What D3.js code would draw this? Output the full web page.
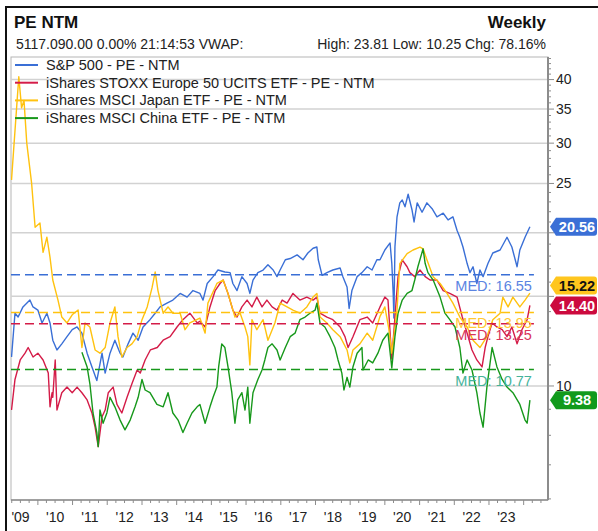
<!DOCTYPE html>
<html>
<head>
<meta charset="utf-8">
<script src="https://cdn.jsdelivr.net/npm/d3@7"></script>
<style>
  body { margin: 0; background: #fff; }
  text { font-family: "Liberation Sans", Arial, sans-serif; }
</style>
</head>
<body>
<script>
// series (time as decimal year, value = forward PE)
const spxT = [2009.24, 2009.34, 2009.43, 2009.57, 2009.77, 2009.86, 2010.00, 2010.12, 2010.26, 2010.35, 2010.43, 2010.55, 2010.69, 2010.84, 2010.99, 2011.13, 2011.27, 2011.42, 2011.56, 2011.70, 2011.85, 2011.94, 2012.08, 2012.22, 2012.37, 2012.45, 2012.60, 2012.74, 2012.89, 2013.03, 2013.23, 2013.38, 2013.52, 2013.72, 2013.89, 2014.10, 2014.30, 2014.47, 2014.67, 2014.76, 2014.88, 2015.05, 2015.19, 2015.39, 2015.54, 2015.62, 2015.74, 2015.88, 2016.03, 2016.11, 2016.20, 2016.34, 2016.49, 2016.63, 2016.78, 2016.89, 2016.98, 2017.13, 2017.27, 2017.47, 2017.64, 2017.78, 2017.93, 2018.04, 2018.08, 2018.19, 2018.33, 2018.50, 2018.71, 2018.79, 2018.91, 2018.97, 2019.05, 2019.20, 2019.34, 2019.49, 2019.63, 2019.77, 2019.86, 2020.00, 2020.15, 2020.20, 2020.24, 2020.26, 2020.29, 2020.35, 2020.43, 2020.50, 2020.58, 2020.67, 2020.78, 2020.84, 2020.93, 2021.07, 2021.21, 2021.36, 2021.50, 2021.68, 2021.82, 2021.96, 2022.08, 2022.16, 2022.25, 2022.37, 2022.45, 2022.54, 2022.65, 2022.74, 2022.83, 2022.97, 2023.11, 2023.32, 2023.52, 2023.66, 2023.81, 2023.89, 2024.04, 2024.18]
const spxV = [11.4, 13.9, 13.66, 14.3, 14.75, 14.3, 14.1, 13.3, 13.9, 13.3, 12.3, 11.77, 12.1, 12.5, 12.9, 13.06, 12.7, 11.6, 10.9, 10.25, 11.6, 10.6, 11.6, 12.3, 11.6, 11.4, 12.1, 12.7, 12.3, 13.06, 13.5, 13.9, 14.3, 14.55, 14.75, 15.2, 14.95, 15.4, 15.2, 14.75, 15.9, 16.4, 16.9, 16.75, 16.7, 15.9, 15.4, 16.4, 15.9, 15.2, 16.15, 16.7, 16.9, 17.3, 16.9, 16.4, 16.9, 17.7, 17.8, 18.1, 17.7, 18.25, 18.65, 18.75, 17.7, 16.5, 16.7, 16.9, 17.05, 16.4, 15.65, 14.2, 15.4, 16.4, 16.7, 17.15, 16.9, 17.7, 17.7, 18.5, 19.1, 17.4, 15.2, 13.6, 18.75, 21.5, 22.9, 23.2, 22.5, 23.81, 22.2, 21.0, 22.9, 21.95, 22.9, 22.3, 21.5, 21.85, 21.2, 21.5, 20.2, 19.6, 18.75, 17.4, 16.7, 17.15, 15.9, 16.9, 16.4, 17.4, 18.25, 18.5, 19.6, 18.75, 17.15, 18.5, 19.6, 20.56]

const euT = [2009.24, 2009.34, 2009.49, 2009.63, 2009.72, 2009.86, 2010.00, 2010.15, 2010.30, 2010.35, 2010.41, 2010.43, 2010.50, 2010.55, 2010.69, 2010.84, 2010.99, 2011.13, 2011.27, 2011.42, 2011.56, 2011.65, 2011.74, 2011.85, 2011.94, 2012.03, 2012.17, 2012.28, 2012.42, 2012.57, 2012.71, 2012.86, 2012.95, 2013.09, 2013.24, 2013.44, 2013.61, 2013.81, 2014.01, 2014.18, 2014.38, 2014.59, 2014.67, 2014.82, 2014.96, 2015.11, 2015.25, 2015.34, 2015.48, 2015.62, 2015.74, 2015.88, 2016.03, 2016.17, 2016.31, 2016.46, 2016.60, 2016.75, 2016.89, 2017.04, 2017.18, 2017.35, 2017.55, 2017.75, 2017.93, 2018.04, 2018.13, 2018.33, 2018.50, 2018.71, 2018.85, 2018.94, 2019.08, 2019.28, 2019.49, 2019.65, 2019.86, 2020.00, 2020.09, 2020.20, 2020.32, 2020.38, 2020.50, 2020.64, 2020.72, 2020.86, 2021.01, 2021.16, 2021.30, 2021.50, 2021.68, 2021.87, 2022.08, 2022.23, 2022.37, 2022.51, 2022.65, 2022.80, 2022.89, 2022.97, 2023.09, 2023.23, 2023.38, 2023.52, 2023.66, 2023.81, 2023.95, 2024.10, 2024.18]
const euV = [8.97, 10.3, 11.25, 11.6, 11.9, 11.4, 11.6, 11.25, 10.6, 9.1, 9.7, 9.5, 11.25, 8.97, 9.7, 9.95, 9.7, 9.95, 9.7, 9.39, 8.85, 8.3, 7.6, 8.7, 8.97, 9.7, 9.95, 9.2, 8.85, 9.5, 10.1, 10.75, 10.6, 11.25, 11.77, 11.9, 12.3, 12.5, 13.06, 13.5, 13.9, 13.3, 13.4, 13.06, 14.3, 15.4, 15.9, 16.15, 15.2, 14.1, 13.66, 14.3, 14.75, 14.3, 14.95, 14.3, 14.75, 14.3, 14.1, 14.75, 14.55, 15.2, 14.75, 14.95, 14.75, 14.95, 13.9, 13.66, 13.5, 13.06, 12.5, 11.9, 12.5, 13.5, 13.66, 13.3, 14.3, 14.95, 14.75, 11.3, 14.55, 16.4, 17.7, 17.15, 16.7, 16.4, 16.9, 16.4, 16.15, 16.15, 15.4, 15.2, 14.95, 13.66, 12.7, 11.77, 11.25, 10.9, 11.9, 12.5, 13.3, 13.06, 12.9, 12.5, 13.06, 12.1, 12.9, 13.5, 14.40]

const jpT = [2009.24, 2009.45, 2009.53, 2009.60, 2009.68, 2009.82, 2009.92, 2010.06, 2010.15, 2010.26, 2010.35, 2010.43, 2010.58, 2010.69, 2010.84, 2010.99, 2011.16, 2011.27, 2011.36, 2011.50, 2011.65, 2011.79, 2011.94, 2012.08, 2012.22, 2012.31, 2012.42, 2012.57, 2012.71, 2012.86, 2013.00, 2013.15, 2013.29, 2013.38, 2013.46, 2013.61, 2013.75, 2013.89, 2014.10, 2014.24, 2014.38, 2014.67, 2014.82, 2014.90, 2015.16, 2015.34, 2015.48, 2015.68, 2015.83, 2015.97, 2016.05, 2016.11, 2016.17, 2016.31, 2016.49, 2016.63, 2016.83, 2016.98, 2017.18, 2017.35, 2017.55, 2017.75, 2017.93, 2018.04, 2018.13, 2018.33, 2018.50, 2018.71, 2018.91, 2018.99, 2019.08, 2019.28, 2019.49, 2019.65, 2019.86, 2020.00, 2020.11, 2020.20, 2020.35, 2020.43, 2020.64, 2020.81, 2021.01, 2021.10, 2021.21, 2021.39, 2021.59, 2021.79, 2021.96, 2022.16, 2022.37, 2022.54, 2022.74, 2022.94, 2023.11, 2023.32, 2023.40, 2023.55, 2023.69, 2023.89, 2024.04, 2024.18]
const jpV = [25.4, 40.5, 35.2, 36.4, 30, 25, 20.5, 20.9, 18.3, 19.6, 17.9, 16.15, 14.75, 13.66, 13.3, 13.8, 14.1, 11.9, 13.3, 13.06, 11.77, 11.6, 11.9, 13.3, 14.3, 12.5, 11.4, 11.9, 12.1, 12.5, 13.5, 14.3, 15.6, 16.75, 15.4, 13.9, 14.3, 13.9, 13.9, 12.9, 13.3, 13.6, 12.7, 14.55, 15.9, 16.15, 15.2, 13.66, 13.9, 13.06, 12.5, 11.0, 13.5, 12.9, 13.5, 12.3, 13.3, 14.55, 14.3, 14.1, 13.9, 14.3, 14.95, 15.2, 13.66, 13.3, 12.9, 12.5, 11.77, 11.1, 11.77, 12.1, 12.7, 12.3, 13.7, 14.3, 13.0, 11.6, 14.1, 17.4, 18.2, 18.5, 18.75, 18.6, 17.7, 16.4, 15.9, 15.2, 14.55, 13.66, 13.06, 12.3, 11.9, 12.5, 13.5, 13.9, 14.95, 14.3, 14.95, 14.3, 14.75, 15.22]

const cnT = [2011.27, 2011.42, 2011.50, 2011.59, 2011.70, 2011.74, 2011.79, 2011.88, 2011.99, 2012.08, 2012.22, 2012.37, 2012.51, 2012.66, 2012.80, 2012.89, 2013.00, 2013.09, 2013.23, 2013.43, 2013.61, 2013.75, 2013.89, 2014.04, 2014.18, 2014.30, 2014.44, 2014.59, 2014.67, 2014.82, 2014.96, 2015.05, 2015.16, 2015.21, 2015.30, 2015.39, 2015.48, 2015.59, 2015.68, 2015.76, 2015.88, 2015.97, 2016.05, 2016.11, 2016.20, 2016.34, 2016.46, 2016.54, 2016.63, 2016.75, 2016.89, 2016.98, 2017.13, 2017.27, 2017.41, 2017.55, 2017.70, 2017.84, 2017.99, 2018.04, 2018.13, 2018.27, 2018.42, 2018.56, 2018.65, 2018.76, 2018.82, 2018.91, 2018.99, 2019.08, 2019.20, 2019.34, 2019.37, 2019.52, 2019.65, 2019.80, 2019.94, 2020.09, 2020.20, 2020.29, 2020.38, 2020.50, 2020.64, 2020.78, 2020.86, 2020.95, 2021.10, 2021.16, 2021.24, 2021.39, 2021.59, 2021.73, 2021.87, 2022.02, 2022.16, 2022.25, 2022.37, 2022.51, 2022.65, 2022.74, 2022.83, 2022.94, 2023.09, 2023.23, 2023.38, 2023.52, 2023.69, 2023.89, 2024.04, 2024.10, 2024.18]
const cnV = [11.65, 10.9, 10.1, 8.85, 8.1, 7.6, 8.97, 8.45, 8.85, 9.5, 9.1, 8.57, 8.2, 8.57, 9.1, 9.5, 10.3, 9.82, 9.7, 9.2, 9.1, 9.7, 8.85, 8.57, 8.1, 8.45, 8.85, 9.1, 9.2, 8.45, 9.1, 9.5, 9.95, 10.9, 12.1, 11.9, 10.9, 9.7, 8.45, 9.39, 9.7, 8.97, 9.95, 8.45, 9.7, 10.3, 10.75, 11.25, 11.9, 12.1, 11.77, 11.25, 11.9, 12.5, 12.7, 13.5, 13.66, 13.9, 14.1, 14.55, 13.3, 13.06, 12.5, 11.9, 11.25, 10.6, 9.82, 10.4, 9.95, 10.9, 11.6, 11.9, 10.75, 11.25, 11.1, 11.6, 12.3, 12.7, 10.85, 12.5, 13.9, 14.75, 15.2, 15.4, 16.15, 17.15, 18.6, 17.4, 16.7, 16.15, 14.95, 13.9, 13.5, 13.06, 11.9, 10.6, 11.25, 10.75, 9.7, 8.85, 8.3, 9.95, 11.9, 10.9, 10.3, 9.95, 9.7, 9.2, 8.57, 8.45, 9.38]

const seriesNames = [
  'S&P 500 - PE - NTM',
  'iShares STOXX Europe 50 UCITS ETF - PE - NTM',
  'iShares MSCI Japan ETF - PE - NTM',
  'iShares MSCI China ETF - PE - NTM',
]
const seriesColor = ['#3a6fd6', '#d41c48', '#ffc20f', '#17981b']
const tagColor = ['#3a6fd6', '#cc0a3e', '#ffc61e', '#129a1c']
const tagText = ['#fff', '#fff', '#111', '#fff']
const medColor = ['#5b84e2', '#d8345c', '#ffc933', '#45b39a']
const medians = [16.55, 13.25, 13.95, 10.77]
const gridValues = [10, 15, 20, 25, 30, 35, 40]
const yearLabels = ["'09", "'10", "'11", "'12", "'13", "'14", "'15", "'16", "'17", "'18", "'19", "'20", "'21", "'22", "'23"]
const firstYear = 2009

const width = 598
const height = 531
const plot = { left: 11, right: 548, top: 57, bottom: 500 }

const toDate = (t) => {
  const yr = Math.floor(t)
  const a = new Date(yr, 0, 1)
  const b = new Date(yr + 1, 0, 1)
  return new Date(+a + (t - yr) * (b - a))
}

const series = [
  [spxT, spxV],
  [euT, euV],
  [jpT, jpV],
  [cnT, cnV],
].map(([t, v], i) => ({
  name: seriesNames[i],
  color: seriesColor[i],
  points: t.map((d, j) => ({ date: toDate(d), value: v[j] })),
}))

const x = d3.scaleTime()
  .domain([toDate(2009.225), toDate(2024.70)])
  .range([plot.left, plot.right])
const y = d3.scaleLog()
  .domain([5.97, 44.3])
  .range([plot.bottom, plot.top])

// last value tags, pushed apart from the bottom up
const tags = series.map((s, i) => {
  const last = s.points[s.points.length - 1]
  return { value: last.value, i, ty: y(last.value) }
}).sort((a, b) => b.ty - a.ty)
tags.forEach((t, k) => {
  if (k > 0) t.ty = Math.min(t.ty, tags[k - 1].ty - 20)
})

const svg = d3.select('body').append('svg')
  .attr('width', width)
  .attr('height', height)

svg.append('defs').append('clipPath').attr('id', 'clip')
  .append('rect')
  .attr('x', plot.left).attr('y', plot.top)
  .attr('width', plot.right - plot.left).attr('height', plot.bottom - plot.top)

// outer frame (left + top only)
svg.append('path')
  .attr('d', `M6,${height} V7 H${width}`)
  .attr('fill', 'none')
  .attr('stroke', '#111')
  .attr('stroke-width', 2)

// header
svg.append('text').attr('x', 14).attr('y', 28)
  .style('font-size', '17px').style('font-weight', 'bold').attr('fill', '#111')
  .text('PE NTM')
svg.append('text').attr('x', 546).attr('y', 28).attr('text-anchor', 'end')
  .style('font-size', '17px').style('font-weight', 'bold').attr('fill', '#111')
  .text('Weekly')
svg.append('text').attr('x', 16).attr('y', 49)
  .style('font-size', '14px').attr('fill', '#222')
  .text('5117.090.00 0.00% 21:14:53 VWAP:')
svg.append('text').attr('x', 546).attr('y', 49).attr('text-anchor', 'end')
  .style('font-size', '14px').attr('fill', '#222')
  .text('High: 23.81 Low: 10.25 Chg: 78.16%')

// plot box
svg.append('rect')
  .attr('x', plot.left).attr('y', plot.top)
  .attr('width', plot.right - plot.left).attr('height', plot.bottom - plot.top)
  .attr('fill', 'none').attr('stroke', '#b5b5b5')

// grid
svg.append('g').selectAll('line')
  .data(gridValues)
  .join('line')
  .attr('x1', plot.left).attr('x2', plot.right)
  .attr('y1', (d) => y(d)).attr('y2', (d) => y(d))
  .attr('stroke', '#d2d2d2').attr('stroke-width', 1.5)

// right axis
const yAxis = svg.append('g')
yAxis.append('line')
  .attr('x1', plot.right).attr('x2', plot.right)
  .attr('y1', plot.top).attr('y2', plot.bottom)
  .attr('stroke', '#8c8c8c').attr('stroke-width', 2)
yAxis.selectAll('.minor')
  .data(d3.range(6, 45))
  .join('line')
  .attr('x1', plot.right).attr('x2', (d) => plot.right + (d % 5 === 0 ? 6 : 3))
  .attr('y1', (d) => y(d)).attr('y2', (d) => y(d))
  .attr('stroke', '#8c8c8c')
// labels hidden behind a value tag are left out, as in the original
yAxis.selectAll('.lbl')
  .data(gridValues.filter((v) => tags.every((t) => Math.abs(t.ty - y(v)) > 12)))
  .join('text')
  .attr('x', plot.right + 8).attr('y', (d) => y(d)).attr('dy', '0.35em')
  .style('font-size', '14px').attr('fill', '#222')
  .text((d) => d)

// bottom axis
const xAxis = svg.append('g')
xAxis.append('line')
  .attr('x1', plot.left).attr('x2', plot.right)
  .attr('y1', plot.bottom).attr('y2', plot.bottom)
  .attr('stroke', '#8c8c8c').attr('stroke-width', 1.5)
xAxis.selectAll('.tick')
  .data(d3.timeMonth.every(3).range(x.domain()[0], x.domain()[1]))
  .join('line')
  .attr('x1', (d) => x(d)).attr('x2', (d) => x(d))
  .attr('y1', plot.bottom).attr('y2', (d) => plot.bottom + (d.getMonth() === 0 ? 5 : 3))
  .attr('stroke', '#8c8c8c')
xAxis.selectAll('.yl')
  .data(yearLabels)
  .join('text')
  .attr('x', (d, i) => x(toDate(firstYear + i + 0.5)))
  .attr('y', 522)
  .attr('text-anchor', 'middle')
  .style('font-size', '14px').attr('fill', '#222')
  .text((d) => d)

// series lines
const line = d3.line()
  .x((d) => x(d.date))
  .y((d) => y(d.value))

svg.append('g').attr('clip-path', 'url(#clip)')
  .selectAll('path')
  .data(series)
  .join('path')
  .attr('d', (d) => line(d.points))
  .attr('fill', 'none')
  .attr('stroke', (d) => d.color)
  .attr('stroke-width', 1.4)
  .attr('stroke-linejoin', 'round')

// median lines + labels
const lastX = x(toDate(spxT[spxT.length - 1]))
const med = svg.append('g')
med.selectAll('line')
  .data(medians)
  .join('line')
  .attr('x1', plot.left).attr('x2', lastX + 4)
  .attr('y1', (d) => y(d)).attr('y2', (d) => y(d))
  .attr('stroke', (d, i) => seriesColor[i])
  .attr('stroke-width', 1.5)
  .attr('stroke-dasharray', '9,5')
med.selectAll('text')
  .data(medians)
  .join('text')
  .attr('x', lastX + 2)
  .attr('y', (d) => y(d) + 16)
  .attr('text-anchor', 'end')
  .style('font-size', '14.5px')
  .attr('fill', (d, i) => medColor[i])
  .text((d) => 'MED: ' + d.toFixed(2))

// legend
const legend = svg.append('g')
legend.selectAll('g')
  .data(series)
  .join('g')
  .attr('transform', (d, i) => `translate(0, ${65 + i * 17.7})`)
  .call((g) => {
    g.append('line')
      .attr('x1', 15).attr('x2', 38)
      .attr('stroke', (d) => d.color).attr('stroke-width', 2)
    g.append('text')
      .attr('x', 46).attr('dy', '0.35em')
      .style('font-size', '14.5px').attr('fill', '#222')
      .text((d) => d.name)
  })

const tagG = svg.append('g').selectAll('g')
  .data(tags)
  .join('g')
  .attr('transform', (d) => `translate(${plot.right + 2}, ${d.ty})`)
tagG.append('path')
  .attr('d', 'M0,0 L6,-9 H44 Q47,-9 47,-6 V6 Q47,9 44,9 H6 Z')
  .attr('fill', (d) => tagColor[d.i])
tagG.append('text')
  .attr('x', 27).attr('dy', '0.36em')
  .attr('text-anchor', 'middle')
  .style('font-size', '14.5px').style('font-weight', 'bold')
  .attr('fill', (d) => tagText[d.i])
  .text((d) => d.value.toFixed(2))
</script>
</body>
</html>
